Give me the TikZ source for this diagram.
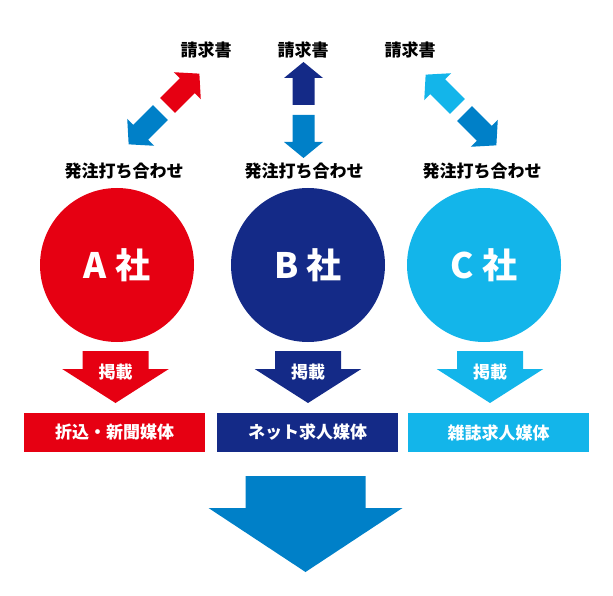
\documentclass[tikz,border=0pt]{standalone}
\usepackage{fontspec}
\setmainfont{Noto Sans CJK JP}
\usepackage{tikz}

\definecolor{aRed}{HTML}{E60012}
\definecolor{bNavy}{HTML}{142A87}
\definecolor{cCyan}{HTML}{13B5EA}
\definecolor{pBlue}{HTML}{0080C8}

% block arrow along +x: colour, from, to, head length, shaft half, head half
\newcommand{\blockarrow}[6]{%
  \fill[#1] (#2,{-#5}) -- ({#3-#4},{-#5}) -- ({#3-#4},{-#6}) -- (#3,0)
    -- ({#3-#4},#6) -- ({#3-#4},#5) -- (#2,#5) -- cycle;}

\begin{document}
\begin{tikzpicture}[x=1pt,y=-1pt]
\tikzset{ lbl/.style={inner sep=0pt, font=\bfseries\fontsize{17}{20}\selectfont},
  wlbl/.style={lbl, text=white},
  firm/.style={circle, minimum size=154pt, inner sep=0pt, text=white,
    font=\bfseries\fontsize{35}{40}\selectfont},
  media/.style={wlbl, minimum width=181pt, minimum height=39pt},
}
\useasboundingbox (0,0) rectangle (613,596);

%\draw [lightgray, dashed](0,0) grid[step=50] (613,596);

\node [lbl] (invA) at (206,50) {請求書};
\node [lbl] (invB) at (303,50) {請求書};
\node [lbl] (invC) at (410,50) {請求書};

\node [lbl] (ordA) at (124,171) {発注打ち合わせ};
\node [lbl] (ordB) at (304,171) {発注打ち合わせ};
\node [lbl] (ordC) at (482,171) {発注打ち合わせ};

\begin{scope}[shift={(164,109)}]
  \begin{scope}[rotate=45]\blockarrow{aRed}{5}{50}{17}{10.5}{19}\end{scope}
  \begin{scope}[rotate=225]\blockarrow{pBlue}{5}{50}{17}{10.5}{19}\end{scope}
\end{scope}
\begin{scope}[shift={(303.5,110)}]
  \begin{scope}[rotate=90]\blockarrow{bNavy}{5}{48}{16}{11}{19.5}\end{scope}
  \begin{scope}[rotate=-90]\blockarrow{pBlue}{5}{48}{16}{11}{19.5}\end{scope}
\end{scope}
\begin{scope}[shift={(461,110)}]
  \begin{scope}[rotate=135]\blockarrow{cCyan}{5}{50}{17}{10.5}{19}\end{scope}
  \begin{scope}[rotate=-45]\blockarrow{pBlue}{5}{50}{17}{10.5}{19}\end{scope}
\end{scope}

\node [firm, fill=aRed] (A) at (117,265) {A 社};
\node [firm, fill=bNavy] (B) at (308,265) {B 社};
\node [firm, fill=cCyan] (C) at (484,265) {C 社};

\begin{scope}[shift={(115.5,351)}, rotate=-90]\blockarrow{aRed}{0}{52}{34}{33}{53.3}\end{scope}
\begin{scope}[shift={(308,351)}, rotate=-90]\blockarrow{bNavy}{0}{52}{34}{33}{53.3}\end{scope}
\begin{scope}[shift={(490,351)}, rotate=-90]\blockarrow{cCyan}{0}{52}{34}{33}{53.3}\end{scope}

\node [wlbl] (pubA) at (115.5,372) {掲載};
\node [wlbl] (pubB) at (308,372) {掲載};
\node [wlbl] (pubC) at (490,372) {掲載};

\node [media, fill=aRed] (mA) at (114.5,432.5) {折込・新聞媒体};
\node [media, fill=bNavy] (mB) at (307.5,432.5) {ネット求人媒体};
\node [media, fill=cCyan] (mC) at (498.5,432.5) {雑誌求人媒体};

\begin{scope}[shift={(305.5,476)}, rotate=-90]\blockarrow{pBlue}{0}{96}{64}{60}{97}\end{scope}

\end{tikzpicture}
\end{document}
